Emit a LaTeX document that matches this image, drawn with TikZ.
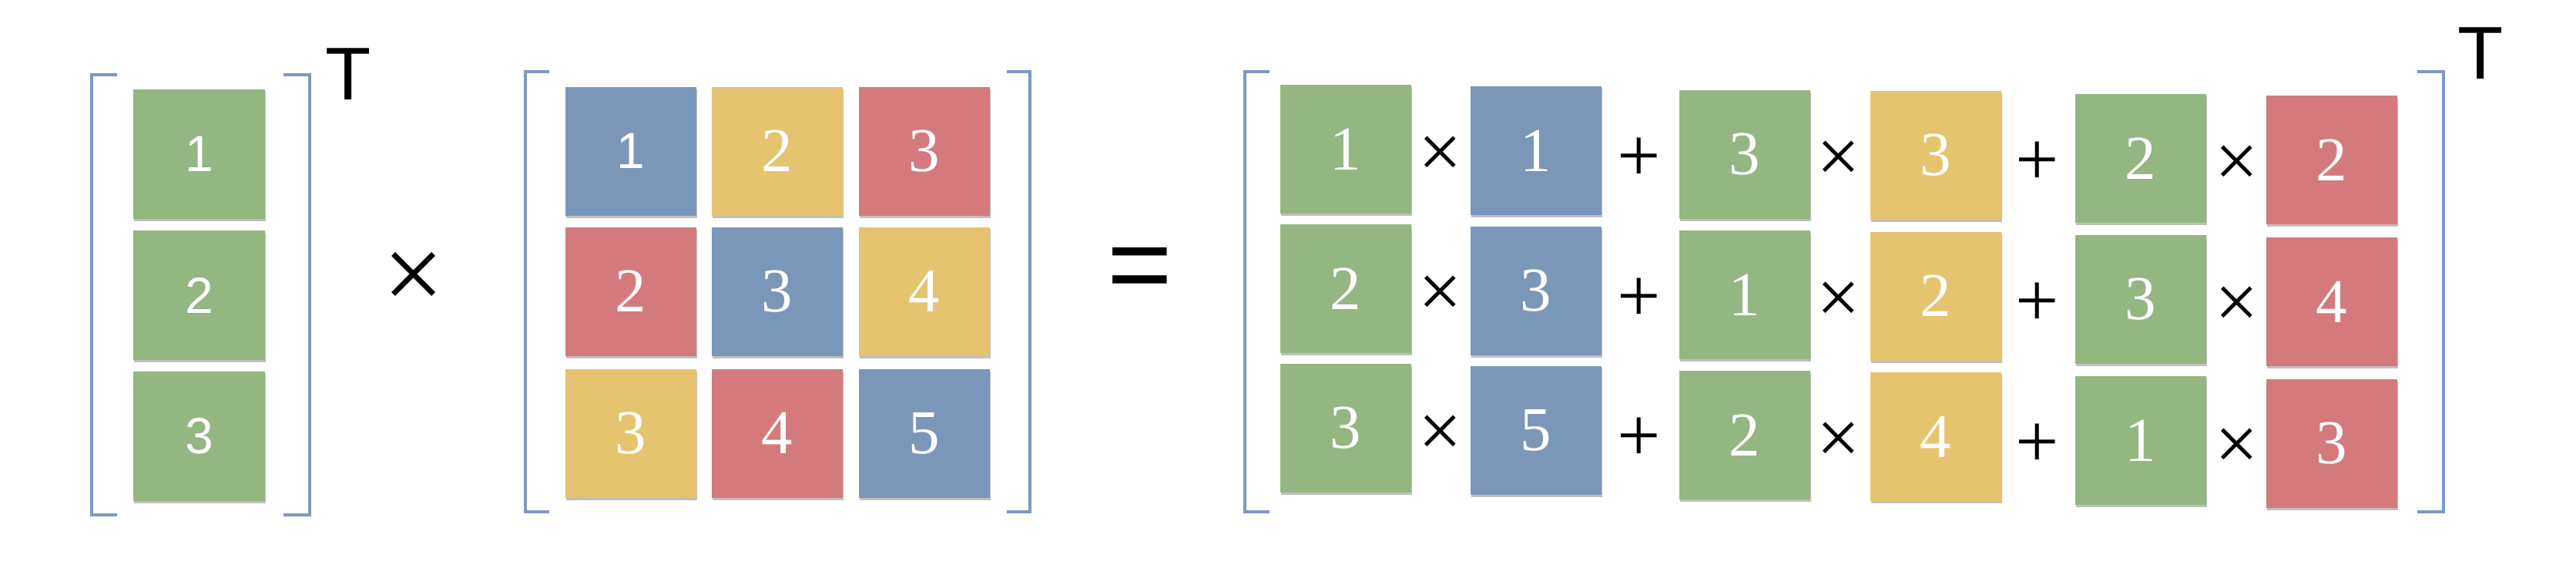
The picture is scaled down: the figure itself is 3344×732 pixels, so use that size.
\documentclass[tikz,border=0pt]{standalone}
\usepackage{fontspec}
\setmainfont{Liberation Serif}
\newfontfamily\sansf{Liberation Sans}
\usetikzlibrary{shadows}
\definecolor{cgreen}{RGB}{148,182,129}
\definecolor{cblue}{RGB}{122,151,185}
\definecolor{cyellow}{RGB}{230,195,110}
\definecolor{cred}{RGB}{212,122,124}
\definecolor{cbrk}{RGB}{125,152,195}
\tikzset{
  x=1pt, y=-1pt,
  cell/.style={minimum width=170pt, minimum height=167pt, inner sep=0pt, outer sep=0pt,
    text=white, font=\fontsize{81}{81}\selectfont,
    drop shadow={shadow xshift=1pt, shadow yshift=-3pt, opacity=0.25, fill=black}},
  vcell/.style={cell, minimum width=171pt, minimum height=168pt, font=\sansf\fontsize{66}{66}\selectfont},
  sdig/.style={font=\sansf\fontsize{66}{66}\selectfont},
  G/.style={cell, fill=cgreen}, B/.style={cell, fill=cblue},
  Y/.style={cell, fill=cyellow}, R/.style={cell, fill=cred},
  brk/.style={draw=cbrk, line width=3.5pt},
  op/.style={font=\fontsize{100}{100}\selectfont, inner sep=0pt},
  bigop/.style={font=\fontsize{140}{140}\selectfont, inner sep=0pt},
  tsym/.style={font=\sansf\fontsize{97}{97}\selectfont, inner sep=0pt}
}
\begin{document}
\begin{tikzpicture}
\useasboundingbox (0,0) rectangle (3344,732);
% ---- vector ----
\draw[brk] (152,97) -- (119,97) -- (119,668) -- (152,668);
\draw[brk] (368,97) -- (402,97) -- (402,668) -- (368,668);
\node[vcell, fill=cgreen] (v1) at (258.5,200) {1};
\node[vcell, fill=cgreen] (v2) at (258.5,383) {2};
\node[vcell, fill=cgreen] (v3) at (258.5,565.5) {3};
\node[tsym] (t1) at (452,96) {T};
\node[bigop] (mul) at (537,365) {×};
% ---- matrix ----
\draw[brk] (713,93) -- (682,93) -- (682,664) -- (713,664);
\draw[brk] (1307,93) -- (1337,93) -- (1337,664) -- (1307,664);
\node[B, sdig] (m11) at (819,196) {1};
\node[Y] (m12) at (1009,196) {2};
\node[R] (m13) at (1200,196) {3};
\node[R] (m21) at (819,378) {2};
\node[B] (m22) at (1009,378) {3};
\node[Y] (m23) at (1200,378) {4};
\node[Y] (m31) at (819,562) {3};
\node[R] (m32) at (1009,562) {4};
\node[B] (m33) at (1200,562) {5};
\node[font=\sansf\fontsize{145}{145}\selectfont, inner sep=0pt] (eq) at (1480,357) {=};
% ---- result ----
\draw[brk] (1648,93) -- (1616,93) -- (1616,664) -- (1648,664);
\draw[brk] (3138,93) -- (3172,93) -- (3172,664) -- (3138,664);
\node[tsym] (t2) at (3220,69) {T};
% row 1
\node[G] (r11) at (1747,193.5) {1};
\node[op] (o11) at (1870,203.5) {×};
\node[B] (r12) at (1994,195.5) {1};
\node[op] (o12) at (2128,207) {+};
\node[G] (r13) at (2265,200.5) {3};
\node[op] (o13) at (2387,210) {×};
\node[Y] (r14) at (2513,201.5) {3};
\node[op] (o14) at (2645,212.5) {+};
\node[G] (r15) at (2779,205.5) {2};
\node[op] (o15) at (2904,215.5) {×};
\node[R] (r16) at (3027,207.5) {2};
% row 2
\node[G] (r21) at (1747,374.5) {2};
\node[op] (o21) at (1870,384.75) {×};
\node[B] (r22) at (1994,377) {3};
\node[op] (o22) at (2128,388.75) {+};
\node[G] (r23) at (2265,382.5) {1};
\node[op] (o23) at (2387,392.25) {×};
\node[Y] (r24) at (2513,384) {2};
\node[op] (o24) at (2645,395.25) {+};
\node[G] (r25) at (2779,388.5) {3};
\node[op] (o25) at (2904,399) {×};
\node[R] (r26) at (3027,391.5) {4};
% row 3
\node[G] (r31) at (1747,555.5) {3};
\node[op] (o31) at (1870,566) {×};
\node[B] (r32) at (1994,558.5) {5};
\node[op] (o32) at (2128,570.5) {+};
\node[G] (r33) at (2265,564.5) {2};
\node[op] (o33) at (2387,574.5) {×};
\node[Y] (r34) at (2513,566.5) {4};
\node[op] (o34) at (2645,578) {+};
\node[G] (r35) at (2779,571.5) {1};
\node[op] (o35) at (2904,582.5) {×};
\node[R] (r36) at (3027,575.5) {3};
\end{tikzpicture}
\end{document}
